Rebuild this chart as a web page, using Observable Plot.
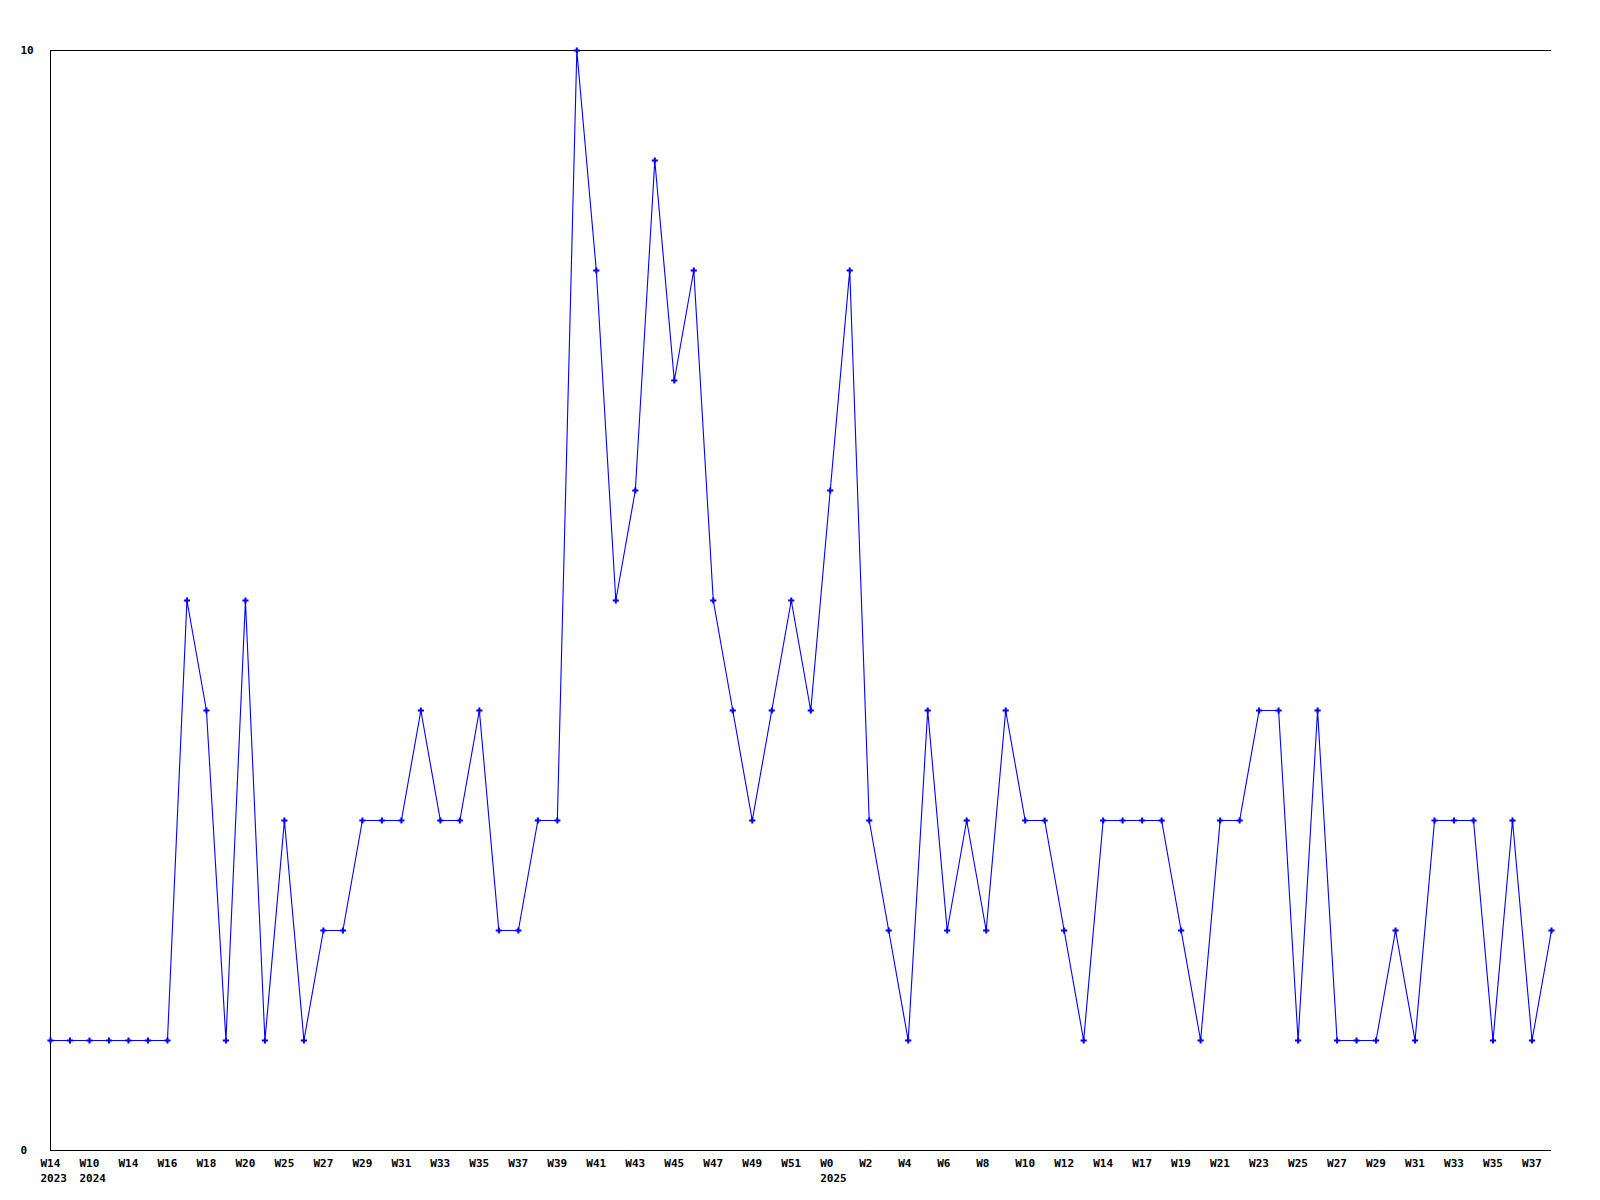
<!DOCTYPE html>
<html><head><meta charset="utf-8">
<script src="https://cdn.jsdelivr.net/npm/d3@7"></script>
<script src="https://cdn.jsdelivr.net/npm/@observablehq/plot@0.6"></script>
<style>body{margin:0;background:#fff}</style>
</head><body><div id="chart"></div>
<script>
const weeks = ["W14","W48","W10","W12","W14","W15","W16","W17","W18","W19",
  "W20","W23","W25","W26","W27","W28","W29","W30","W31","W32",
  "W33","W34","W35","W36","W37","W38","W39","W40","W41","W42",
  "W43","W44","W45","W46","W47","W48","W49","W50","W51","W52",
  "W0","W1","W2","W3","W4","W5","W6","W7","W8","W9",
  "W10","W11","W12","W13","W14","W16","W17","W18","W19","W20",
  "W21","W22","W23","W24","W25","W26","W27","W28","W29","W30",
  "W31","W32","W33","W34","W35","W36","W37","W38"];
const years = [2023,2023,
  2024,2024,2024,2024,2024,2024,2024,2024,2024,2024,2024,2024,2024,2024,2024,2024,2024,2024,
  2024,2024,2024,2024,2024,2024,2024,2024,2024,2024,2024,2024,2024,2024,2024,2024,2024,2024,2024,2024,
  2025,2025,2025,2025,2025,2025,2025,2025,2025,2025,2025,2025,2025,2025,2025,2025,2025,2025,2025,2025,
  2025,2025,2025,2025,2025,2025,2025,2025,2025,2025,2025,2025,2025,2025,2025,2025,2025,2025];
const values = [1,1,1,1,1,1,1,5,4,1,
  5,1,3,1,2,2,3,3,3,4,
  3,3,4,2,2,3,3,10,8,5,
  6,9,7,8,5,4,3,4,5,4,
  6,8,3,2,1,4,2,3,2,4,
  3,3,2,1,3,3,3,3,2,1,
  3,3,4,4,1,4,1,1,1,2,
  1,3,3,3,1,3,1,2];
const yTicks = [0, 10];

const data = values.map((v, i) => ({i, v, week: weeks[i], year: years[i]}));
const tickIdx = d3.range(0, weeks.length, 2);
function label(i) {
  const k = tickIdx.indexOf(i);
  const prev = k > 0 ? tickIdx[k - 1] : undefined;
  const showYear = prev === undefined || years[prev] !== years[i];
  return weeks[i] + (showYear ? "\n" + years[i] : "");
}
const chart = Plot.plot({
  width: 1600, height: 1200,
  marginLeft: 50, marginRight: 49, marginTop: 50, marginBottom: 50,
  style: {fontFamily: "DejaVu Sans Mono", fontSize: "11px", fontWeight: "bold", background: "#fff", color: "#000"},
  x: {type: "linear", domain: [0, weeks.length - 1], label: null},
  y: {domain: [0, 10], label: null},
  marks: [
    Plot.ruleY([0, 10], {stroke: "#000"}),
    Plot.ruleX([0], {stroke: "#000"}),
    Plot.axisX({ticks: tickIdx, tickSize: 0, tickPadding: 6, tickFormat: label, textAnchor: "start", dx: -10, lineHeight: 1.36, fill: "#000", label: null}),
    Plot.axisY({ticks: yTicks, tickSize: 0, tickPadding: 0, textAnchor: "start", dx: -30, fill: "#000", label: null}),
    Plot.line(data, {x: "i", y: "v", stroke: "#0000ff", strokeWidth: 1.1}),
    Plot.dot(data, {x: "i", y: "v", symbol: "cross", fill: "#0000ff", stroke: "none", r: 2.6})
  ]
});
document.getElementById("chart").appendChild(chart);
</script>
</body></html>
